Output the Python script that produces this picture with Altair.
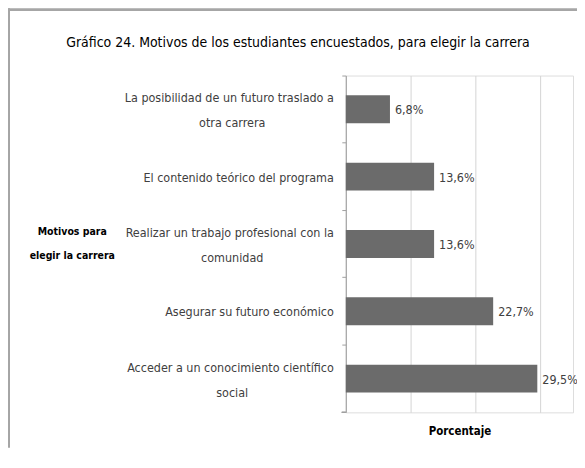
import altair as alt
import pandas as pd

title_text = ["Gráfico 24. Motivos de los estudiantes encuestados, para elegir la carrera"]
categories = [
    "La posibilidad de un futuro traslado  a otra carrera",
    "El contenido teórico del programa",
    "Realizar un trabajo profesional con la comunidad",
    "Asegurar su futuro económico",
    "Acceder a un conocimiento científico social",
]
line1 = [
    "La posibilidad de un futuro traslado  a",
    "El contenido teórico del programa",
    "Realizar un trabajo profesional con la",
    "Asegurar su futuro económico",
    "Acceder a un conocimiento científico",
]
line2 = ["otra carrera", "", "comunidad", "", "social"]
values = [6.8, 13.6, 13.6, 22.7, 29.5]
value_labels = ["6,8%", "13,6%", "13,6%", "22,7%", "29,5%"]
x_grid = [0, 5, 10, 15, 20, 25, 30, 35]

FONT = "Liberation Sans Narrow, DejaVu Sans Condensed, sans-serif"

df = pd.DataFrame({
    "cat": categories,
    "value": values,
    "lab": value_labels,
    "l1": line1,
    "l2": line2,
})
df_title = pd.DataFrame({"t": title_text})

W, H = 228, 338
PAD_L, PAD_T, PAD_R, PAD_B = 339, 67, 4, 35

yenc = alt.Y(
    "cat:N",
    sort=categories,
    scale=alt.Scale(paddingInner=0, paddingOuter=0),
    axis=alt.Axis(
        labels=False,
        bandPosition=0,
        tickSize=4,
        tickColor="#a0a0a0",
        domainColor="#a0a0a0",
        title=["Motivos para", "elegir la carrera"],
        titleAngle=0,
        titleX=-275,
        titleY=157,
        titleAlign="center",
        titleBaseline="middle",
        titleFont=FONT,
        titleFontSize=10.5,
        titleFontWeight="bold",
        titleColor="#000000",
        titleLineHeight=24,
    ),
)

base = alt.Chart(df)

bars = base.mark_bar(color="#6b6b6b", size=28).encode(
    x=alt.X(
        "value:Q",
        scale=alt.Scale(domain=[0, 35], nice=False),
        axis=alt.Axis(
            values=x_grid,
            labels=False,
            ticks=False,
            domain=False,
            grid=True,
            gridColor="#d4d4d4",
            title="Porcentaje",
            titleFont=FONT,
            titleFontSize=11.5,
            titleFontWeight="bold",
            titleColor="#000000",
            titlePadding=13,
        ),
    ),
    y=yenc,
)

LBL = 12.5

value_text = base.mark_text(
    align="left", baseline="middle", dx=5, dy=1, font=FONT, fontSize=LBL, color="#404040"
).encode(x="value:Q", y=alt.Y("cat:N", sort=categories), text="lab:N")

single = base.transform_filter("datum.l2 == ''").mark_text(
    align="right", baseline="middle", dy=1, font=FONT, fontSize=LBL, color="#404040"
).encode(x=alt.value(-12), y=alt.Y("cat:N", sort=categories), text="l1:N")

first = base.transform_filter("datum.l2 != ''").mark_text(
    align="right", baseline="middle", dy=-11, font=FONT, fontSize=LBL, color="#404040"
).encode(x=alt.value(-12), y=alt.Y("cat:N", sort=categories), text="l1:N")

second = base.transform_filter("datum.l2 != ''").mark_text(
    align="center", baseline="middle", dy=14, font=FONT, fontSize=LBL, color="#404040"
).encode(x=alt.value(-114), y=alt.Y("cat:N", sort=categories), text="l2:N")

title = alt.Chart(df_title).mark_text(
    align="center", baseline="middle", font=FONT, fontSize=14, color="#000000"
).encode(x=alt.value(-48), y=alt.value(-33), text="t:N")

bottom_tick = base.mark_rule(color="#a0a0a0").encode(
    x=alt.value(-4), x2=alt.value(0), y=alt.value(H)
)
left_border = base.mark_rule(color="#a6a6a6", strokeWidth=2).encode(
    x=alt.value(-PAD_L + 1), y=alt.value(-PAD_T), y2=alt.value(H + PAD_B)
)
top_border = base.mark_rule(color="#a6a6a6", strokeWidth=2).encode(
    x=alt.value(-PAD_L), x2=alt.value(W + PAD_R), y=alt.value(-PAD_T + 1)
)

chart = alt.layer(
    bars, value_text, single, first, second, title, bottom_tick, left_border, top_border
).properties(
    width=W,
    height=H,
    autosize=alt.AutoSizeParams(type="none"),
    padding={"left": PAD_L, "top": PAD_T, "right": PAD_R, "bottom": PAD_B},
).configure_view(stroke=None).configure(background="white")

chart.save("out.html", embed_options={"renderer": "svg", "actions": False})
